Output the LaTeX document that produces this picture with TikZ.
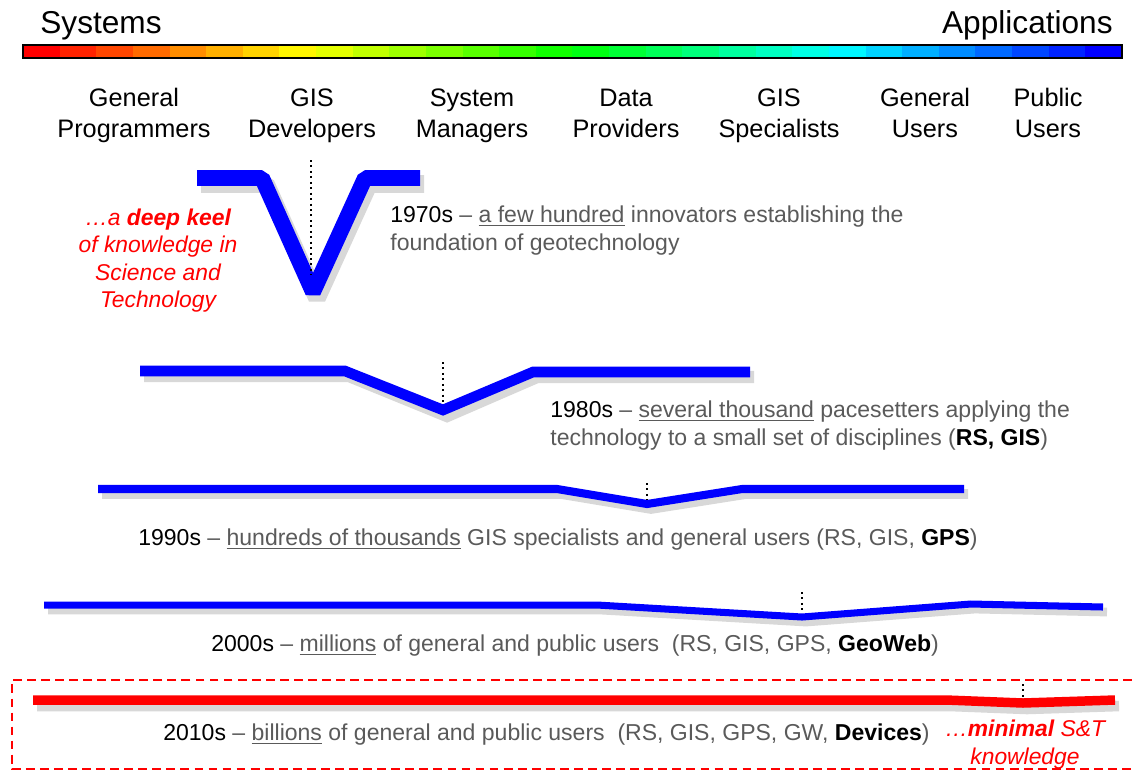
\documentclass[tikz,border=0pt]{standalone}
\usepackage{fontspec}
\setmainfont{Liberation Sans}
\usepackage{tikz}
\definecolor{keelblue}{RGB}{0,0,255}
\definecolor{keelred}{RGB}{255,0,0}
\definecolor{txtgray}{RGB}{90,90,90}
\newcommand{\yr}[1]{\textcolor{black}{#1}}%year in black
\newcommand{\bk}[1]{\textcolor{black}{\textbf{#1}}}

\begin{document}
\begin{tikzpicture}[x=0.02cm, y=-0.02cm,
keel/.style={line width=#1, line join=miter, line cap=butt},
shade/.style={line width=#1, black!22, line join=miter, opacity=0.7},
probe/.style={dotted, line width=1.1pt},
head/.style={inner sep=0pt, font=\fontsize{18}{20}\selectfont},
role/.style={inner sep=0pt, align=center, font=\fontsize{14.4}{17.6}\selectfont},
era/.style={inner sep=0pt, align=left, text=txtgray, font=\fontsize{13.1}{15.9}\selectfont},
note/.style={inner sep=0pt, align=center, text=keelred, font=\fontsize{13}{15.6}\selectfont\itshape}]%styles for keels and texts
\useasboundingbox (0,0) rectangle (1132,772);

% colour bar
\node[head, anchor=base west] (sys) at (40,33) {Systems};
\node[head, anchor=base east] (app) at (1113,33) {Applications};
\foreach \i in {0,...,29}{
  \pgfmathsetmacro\hue{0.667*\i/29}
  \definecolor{barseg}{hsb}{\hue,1,1}
  \fill[barseg] ({23+\i*36.63},45) rectangle ({23+(\i+1)*36.63+0.6},58);
}
\draw[line width=1.2pt] (23,45) rectangle (1122,58);

% user groups
\node[role] (gp) at (134,116) {\strut General\\\strut Programmers};
\node[role] (gd) at (312,116) {\strut GIS\\\strut Developers};
\node[role] (sm) at (472,116) {\strut System\\\strut Managers};
\node[role] (dp) at (626,116) {\strut Data\\\strut Providers};
\node[role] (gs) at (779,116) {\strut GIS\\\strut Specialists};
\node[role] (gu) at (925,116) {\strut General\\\strut Users};
\node[role] (pu) at (1048,116) {\strut Public\\\strut Users};

% 1970s
\draw[shade=10pt, line join=bevel] (201,184) -- (266,184) -- (317,298) -- (369,184) -- (424,184);
\draw[keel=9pt, keelblue, line join=bevel] (197,178) -- (262,178) -- (313,292) -- (365,178) -- (420,178);
\draw[probe] (311,160) -- (311,275);
\node[era, anchor=west] (e70) at (390,231) {\strut\yr{1970s} -- \underline{a few hundred} innovators establishing the\\\strut foundation of geotechnology};
\node[note] (keelnote) at (158,261) {\strut…a \textbf{deep keel}\\of knowledge in\\Science and\\Technology\strut};

% 1980s
\draw[shade=7pt] (144,376) -- (349,376) -- (447,416) -- (537,377) -- (754,377);
\draw[keel=6pt, keelblue] (140,371) -- (345,371) -- (443,410) -- (533,372) -- (750,372);
\draw[probe] (443,362) -- (443,404);
\node[era, anchor=west] (e80) at (550,426) {\strut\yr{1980s} -- \underline{several thousand} pacesetters applying the\\\strut technology to a small set of disciplines (\bk{RS, GIS})};

% 1990s
\draw[shade=5.5pt] (102,494) -- (561,494) -- (651,509) -- (746,494) -- (968,494);
\draw[keel=4.6pt, keelblue] (98,489) -- (557,489) -- (647,504) -- (742,489) -- (964,489);
\draw[probe] (647,483) -- (647,500);
\node[era, anchor=west] (e90) at (138,540) {\strut\yr{1990s} -- \underline{hundreds of thousands} GIS specialists and general users (RS, GIS, \bk{GPS})};

% 2000s
\draw[shade=5pt] (48,610) -- (601,610) -- (806,622) -- (975,609) -- (1107,612);
\draw[keel=4pt, keelblue] (44,605) -- (597,605) -- (802,617) -- (971,604) -- (1103,607);
\draw[probe] (802,592) -- (802,611);
\node[era, anchor=west] (e00) at (211,646) {\strut\yr{2000s} -- \underline{millions} of general and public users\ \ (RS, GIS, GPS, \bk{GeoWeb})};

% 2010s
\draw[red, dashed, line width=1.1pt, dash pattern=on 5pt off 3pt] (1132,680) -- (12,680) -- (12,769) -- (1132,769);
\draw[shade=6pt] (37,706) -- (950,706) -- (1027,709) -- (1119,706);
\draw[keel=5.4pt, keelred] (33,700) -- (946,700) -- (1023,703) -- (1115,700);
\draw[probe] (1023,684) -- (1023,699);
\node[era, anchor=west] (e10) at (163,735) {\strut\yr{2010s} -- \underline{billions} of general and public users\ \ (RS, GIS, GPS, GW, \bk{Devices})};
\node[note] (minnote) at (1025,745) {\strut…\textbf{minimal} S\&T\\knowledge\strut};
\end{tikzpicture}
\end{document}
